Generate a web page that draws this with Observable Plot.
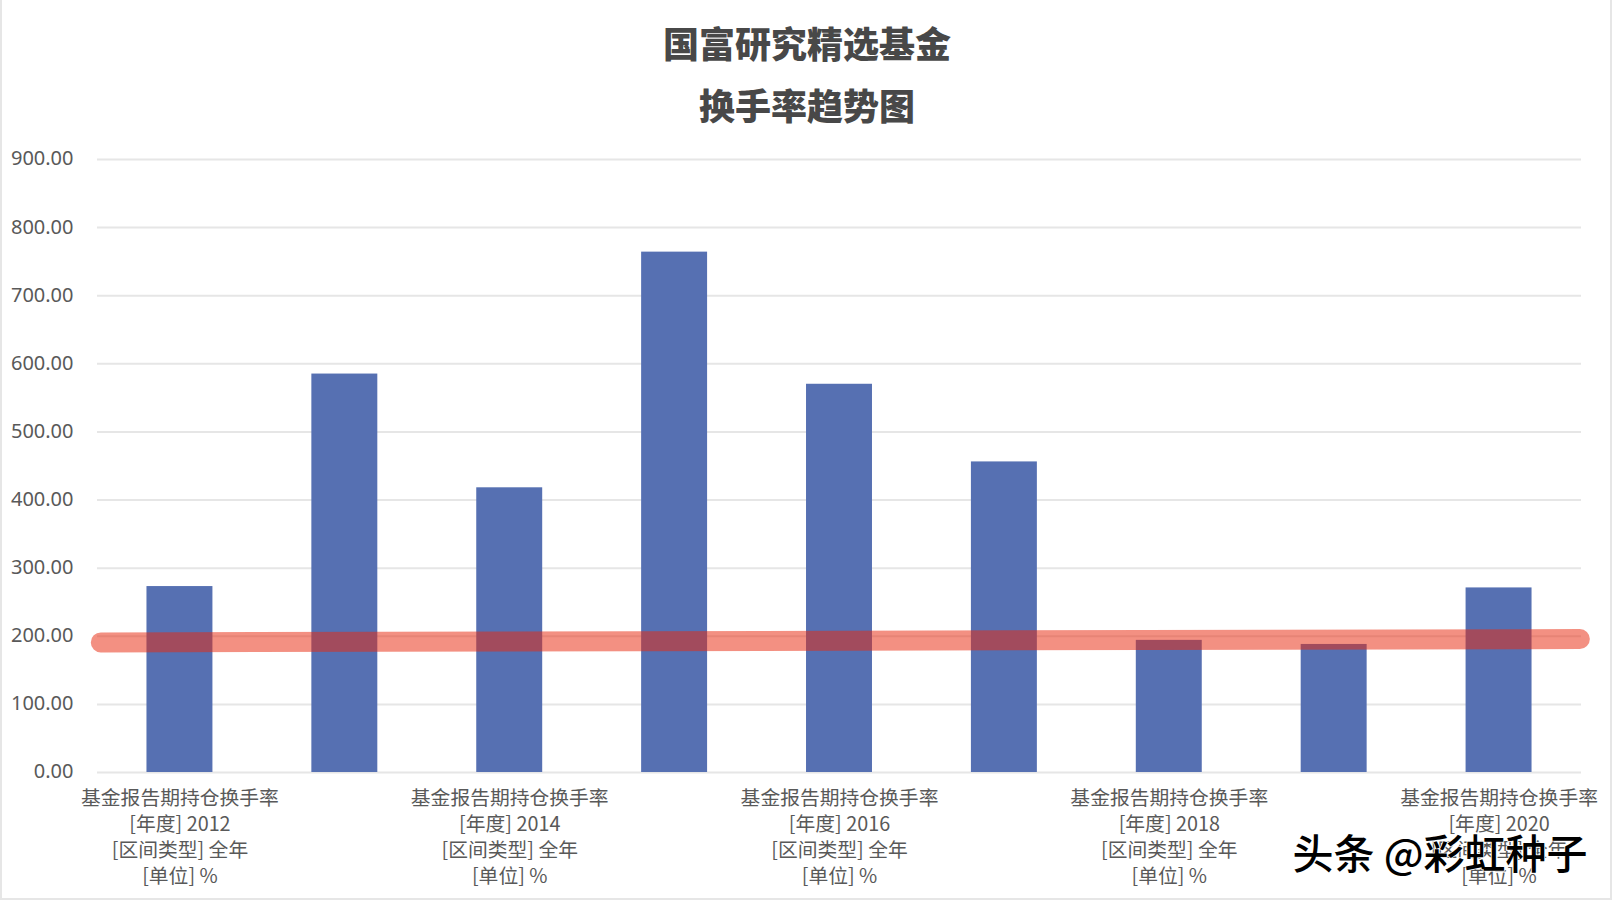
<!DOCTYPE html>
<html>
<head>
<meta charset="utf-8">
<script src="https://cdn.jsdelivr.net/npm/d3@7"></script>
<script src="https://cdn.jsdelivr.net/npm/@observablehq/plot@0.6"></script>
<style>
  html, body { margin: 0; padding: 0; background: #fff; overflow: hidden; }
  #card { position: relative; width: 1614px; height: 902px; box-sizing: border-box; overflow: hidden; }
  #card::before { content: ""; position: absolute; inset: 0 2px 2px 0; border-left: 2px solid #e6e6e6; border-right: 2px solid #e6e6e6; border-bottom: 2px solid #e6e6e6; pointer-events: none; }
  #title { height: 135px; text-align: center; font-family: "Noto Sans CJK SC", sans-serif; font-weight: 900; font-size: 36px; line-height: 62px; color: #484848; padding-top: 11px; box-sizing: border-box; }
  #title div { height: 62px; }
  svg { display: block; }
</style>
</head>
<body>
<div id="card">
  <div id="title"><div>国富研究精选基金</div><div>换手率趋势图</div></div>
</div>
<script>
const years = [2012, 2013, 2014, 2015, 2016, 2017, 2018, 2019, 2020];
const turnover = [273, 585, 418, 764, 570, 456, 194, 188, 271];
const yTicks = [0, 100, 200, 300, 400, 500, 600, 700, 800, 900];
const labeledYears = [2012, 2014, 2016, 2018, 2020];
const trendX = [2011.52, 2020.49];
const trendY = [191, 196];
const watermark = ["头条 @彩虹种子"];

const bars = years.map((year, i) => ({year, value: turnover[i]}));
const trend = trendX.map((x, i) => ({x, y: trendY[i]}));
const xLabel = y => `基金报告期持仓换手率\n[年度] ${y}\n[区间类型] 全年\n[单位] %`;
const font = '"Noto Sans CJK SC", sans-serif';

const chart = Plot.plot({
  width: 1614,
  height: 767,
  marginLeft: 97,
  marginRight: 33,
  marginTop: 24,
  marginBottom: 130,
  style: {background: "transparent", fontFamily: font, overflow: "visible"},
  x: {type: "linear", domain: [2011.5, 2020.5], axis: null},
  y: {domain: [0, 900], axis: null},
  marks: [
    Plot.gridY(yTicks, {stroke: "#e6e6e6", strokeOpacity: 1, strokeWidth: 2}),
    Plot.rectY(bars, {x1: d => d.year - 0.2, x2: d => d.year + 0.2, y: "value", fill: "#5670b2"}),
    Plot.line(trend, {x: "x", y: "y", stroke: "#e82a10", strokeOpacity: 0.52, strokeWidth: 20, strokeLinecap: "round"}),
    Plot.axisY({ticks: yTicks, tickFormat: d3.format(".2f"), tickSize: 0, tickPadding: 24, dy: -0.5, label: null, fontSize: 20, fontFamily: '"Noto Sans", sans-serif', color: "#595959"}),
    Plot.axisX({ticks: labeledYears, tickFormat: xLabel, tickSize: 0, tickPadding: 14, label: null, fontSize: 19.8, lineHeight: 1.32, color: "#595959", lineAnchor: "top"}),
    Plot.text(watermark, {frameAnchor: "bottom-right", dx: 6, dy: 96, fontSize: 41, fill: "#000", stroke: "#fff", strokeWidth: 1.5, paintOrder: "stroke", fontFamily: font, fontWeight: 500})
  ]
});
document.getElementById("card").appendChild(chart);
</script>
</body>
</html>
